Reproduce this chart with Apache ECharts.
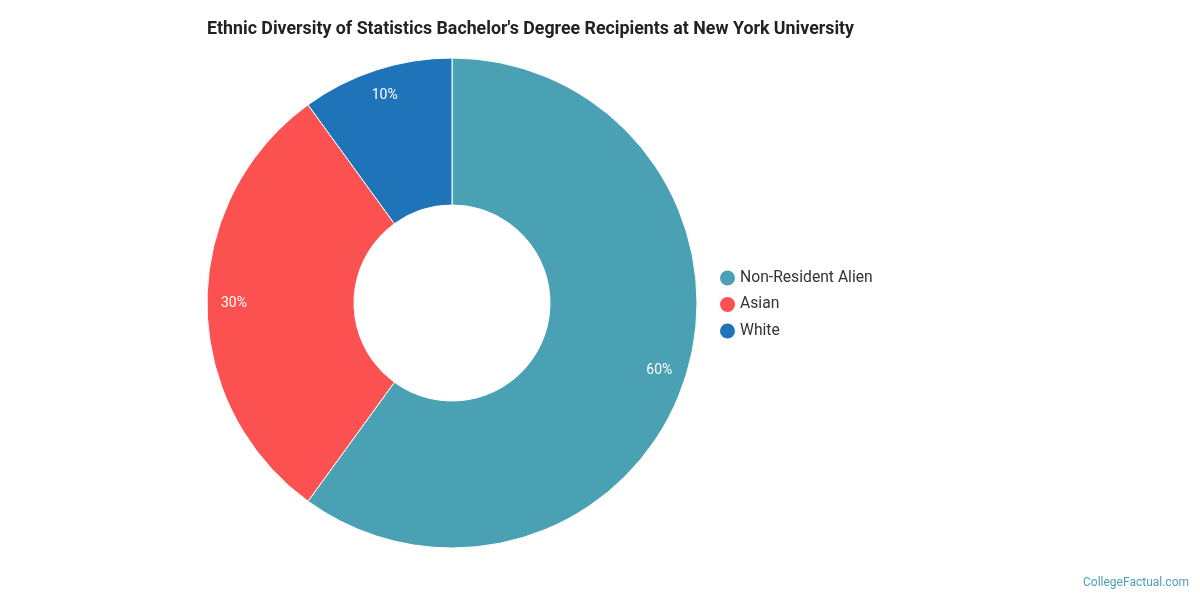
<!DOCTYPE html>
<html>
<head>
<meta charset="UTF-8">
<style>* {margin:0;padding:0;} body{background:#fff;}</style>
</head>
<body>
<div id="main" style="width:1200px;height:600px;"></div>
<script src="https://cdn.jsdelivr.net/npm/echarts@6/dist/echarts.min.js"></script>
<script>
var categories = ['Non-Resident Alien', 'Asian', 'White'];
var values = [60, 30, 10];
var colors = ['#4aa1b3', '#fc5151', '#1f73b9'];

var data = categories.map(function (c, i) {
    return {name: c, value: values[i], itemStyle: {color: colors[i]}};
});

var option = {
    textStyle: {fontFamily: 'Roboto'},
    title: [{
        text: "Ethnic Diversity of Statistics Bachelor's Degree Recipients at New York University",
        left: 202, top: 16,
        textStyle: {fontSize: 17.8, fontWeight: 'bold', color: '#222', fontFamily: 'Roboto'}
    }, {
        text: 'CollegeFactual.com',
        right: 6, bottom: 6,
        textStyle: {fontSize: 12, fontWeight: 'normal', color: '#4aa1b3', fontFamily: 'Roboto'}
    }],
    legend: {
        orient: 'vertical',
        left: 715, top: 265,
        icon: 'circle', itemWidth: 15, itemHeight: 15, itemGap: 10.5,
        itemStyle: {borderWidth: 0},
        textStyle: {fontSize: 15.7, color: '#333', lineHeight: 15},
        data: categories
    },
    series: [{
        type: 'pie',
        center: [452, 303],
        radius: [98, 245],
        startAngle: 90,
        clockwise: true,
        label: {show: false},
        labelLine: {show: false},
        itemStyle: {borderColor: '#fff', borderWidth: 1},
        emphasis: {disabled: true},
        data: data
    }, {
        type: 'pie',
        center: [452, 303],
        radius: [200, 230],
        startAngle: 90,
        silent: true,
        legendHoverLink: false,
        itemStyle: {color: 'transparent'},
        label: {show: true, position: 'inside', color: '#fff', fontSize: 14,
            formatter: function (p) { return p.value + '%'; }},
        labelLine: {show: false},
        data: data.map(function (d) { return {name: d.name + ' ', value: d.value, itemStyle: {color: 'transparent'}}; })
    }]
};

var myChart = echarts.init(document.getElementById('main'));
myChart.setOption(option);
</script>
</body>
</html>
